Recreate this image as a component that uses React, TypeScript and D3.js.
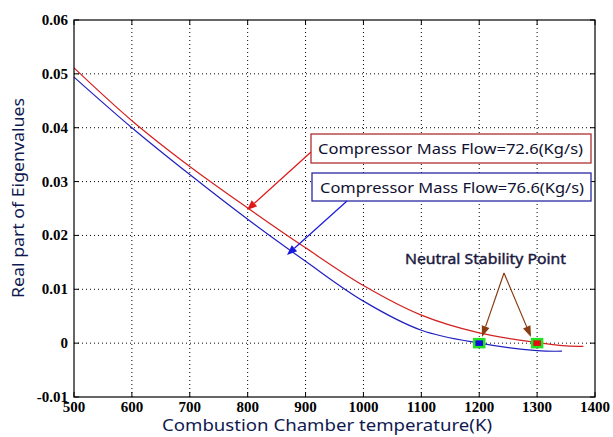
import React from "react";
import * as d3 from "d3";

const xTicks = [500, 600, 700, 800, 900, 1000, 1100, 1200, 1300, 1400];
const yTicks = [-0.01, 0, 0.01, 0.02, 0.03, 0.04, 0.05, 0.06];
const yTickLabels = ["-0.01", "0", "0.01", "0.02", "0.03", "0.04", "0.05", "0.06"];

const tempRed = [500, 600, 700, 800, 900, 1000, 1100, 1200, 1300, 1350, 1380];
const valRed = [0.0511, 0.0413, 0.0328, 0.0251, 0.0177, 0.0107, 0.0052, 0.0019, 0.0001, -0.0005, -0.0006];

const tempBlue = [500, 600, 700, 800, 900, 1000, 1100, 1200, 1300, 1343];
const valBlue = [0.0494, 0.04, 0.0313, 0.023, 0.0152, 0.0078, 0.0024, 0.0, -0.0014, -0.0015];

const stablePoints = [
  { t: 1200, v: 0, color: "#1010d8" },
  { t: 1300, v: 0, color: "#e01010" },
];

const labelRed = "Compressor Mass Flow=72.6(Kg/s)";
const labelBlue = "Compressor Mass Flow=76.6(Kg/s)";
const labelNeutral = "Neutral Stability Point";
const xTitle = "Combustion Chamber temperature(K)";
const yTitle = "Real part of Eigenvalues";

export default function App() {
  const W = 613, H = 437;
  const L = 74, R = 595, T = 20, B = 397;
  const x = d3.scaleLinear().domain([500, 1400]).range([L, R]);
  const y = d3.scaleLinear().domain([-0.01, 0.06]).range([B, T]);
  const line = d3.line<[number, number]>().x(d => x(d[0])).y(d => y(d[1])).curve(d3.curveCatmullRom);
  const redPath = line(tempRed.map((t, i) => [t, valRed[i]]) as [number, number][]) || "";
  const bluePath = line(tempBlue.map((t, i) => [t, valBlue[i]]) as [number, number][]) || "";
  const tickStyle = { fontFamily: "'Liberation Serif', 'DejaVu Serif', serif", fontWeight: 700, fontSize: "15px" } as React.CSSProperties;
  const annFont = "Noto Sans, DejaVu Sans, sans-serif";
  const brown = "#8a3c12";

  const arrowHead = (x1: number, y1: number, x2: number, y2: number, color: string, len = 10, wid = 4) => {
    const a = Math.atan2(y2 - y1, x2 - x1);
    const bx = x2 - len * Math.cos(a), by = y2 - len * Math.sin(a);
    const px = -Math.sin(a) * wid, py = Math.cos(a) * wid;
    return <g>
      <line x1={x1} y1={y1} x2={bx} y2={by} stroke={color} strokeWidth={1.2} />
      <polygon points={`${x2},${y2} ${bx + px},${by + py} ${bx - px},${by - py}`} fill={color} />
    </g>;
  };

  return (
    <svg width={W} height={H} style={{ position: "absolute", left: 0, top: 0, background: "#fff" }}>
      <rect x={0} y={0} width={W} height={H} fill="#fff" />
      {xTicks.slice(1, -1).map(t => (
        <line key={"gx" + t} x1={x(t)} x2={x(t)} y1={T} y2={B} stroke="#000" strokeWidth={1} strokeDasharray="1,3" />
      ))}
      {yTicks.slice(1, -1).map(t => (
        <line key={"gy" + t} x1={L} x2={R} y1={y(t)} y2={y(t)} stroke="#000" strokeWidth={1} strokeDasharray="1,3" />
      ))}
      {xTicks.map(t => (
        <g key={"tx" + t}>
          <line x1={x(t)} x2={x(t)} y1={B} y2={B - 5} stroke="#000" />
          <line x1={x(t)} x2={x(t)} y1={T} y2={T + 5} stroke="#000" />
          <text x={x(t)} y={B + 15} textAnchor="middle" style={tickStyle} fill="#000">{t}</text>
        </g>
      ))}
      {yTicks.map((t, i) => (
        <g key={"ty" + t}>
          <line x1={L} x2={L + 5} y1={y(t)} y2={y(t)} stroke="#000" />
          <line x1={R} x2={R - 5} y1={y(t)} y2={y(t)} stroke="#000" />
          <text x={L - 6} y={y(t) + 5} textAnchor="end" style={tickStyle} fill="#000">{yTickLabels[i]}</text>
        </g>
      ))}
      <path d={redPath} fill="none" stroke="#d42020" strokeWidth={1.2} />
      <path d={bluePath} fill="none" stroke="#2020c0" strokeWidth={1.2} />
      {stablePoints.map(p => (
        <rect key={p.t} x={x(p.t) - 5} y={y(p.v) - 4} width={10} height={8} fill={p.color} stroke="#22e022" strokeWidth={2.5} />
      ))}
      <rect x={L} y={T} width={R - L} height={B - T} fill="none" stroke="#000" strokeWidth={1.2} />
      <rect x={311} y={134} width={280} height={29} fill="#fff" stroke="#b03030" strokeWidth={1.3} />
      <text x={318} y={154} fontFamily={annFont} fontSize={14} fill="#101030" textLength={265} lengthAdjust="spacingAndGlyphs">{labelRed}</text>
      {arrowHead(311, 152, 247, 210, "#e01818")}
      <rect x={312} y={173} width={279} height={28} fill="#fff" stroke="#2828a0" strokeWidth={1.3} />
      <text x={320} y={193} fontFamily={annFont} fontSize={14} fill="#101030" textLength={264} lengthAdjust="spacingAndGlyphs">{labelBlue}</text>
      {arrowHead(347, 201, 287, 255, "#1818e0")}
      <text x={405} y={264} fontFamily={annFont} fontSize={14} fill="#1a1a40" stroke="#1a1a40" strokeWidth={0.4} textLength={161} lengthAdjust="spacingAndGlyphs">{labelNeutral}</text>
      {arrowHead(504, 273, 482, 337, brown, 11, 4)}
      {arrowHead(504, 273, 531, 337, brown, 11, 4)}
      <text x={327} y={431} textAnchor="middle" fontFamily={annFont} fontSize={15.5} fill="#101a50" textLength={330} lengthAdjust="spacingAndGlyphs">{xTitle}</text>
      <text transform={`translate(24,198) rotate(-90)`} textAnchor="middle" fontFamily={annFont} fontSize={17} fill="#101a50" textLength={200} lengthAdjust="spacingAndGlyphs">{yTitle}</text>
    </svg>
  );
}
